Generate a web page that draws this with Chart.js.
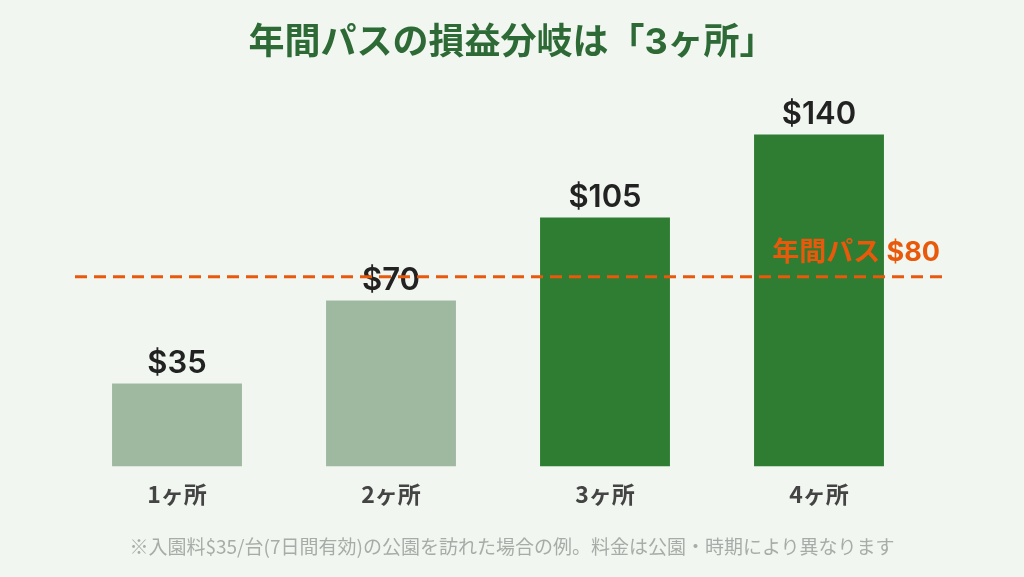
<!DOCTYPE html>
<html lang="ja">
<head>
<meta charset="UTF-8">
<title>年間パスの損益分岐</title>
<script src="https://cdn.jsdelivr.net/npm/chart.js"></script>
<style>
    body {
        margin: 0;
        padding: 0;
        background: #f1f6f0;
    }
    .wrap {
        width: 1024px;
        height: 577px;
        position: relative;
    }
    .title {
        position: absolute;
        top: 21px;
        left: 0;
        width: 1024px;
        text-align: center;
        font-family: Inter, "Noto Sans CJK JP", sans-serif;
        font-size: 36px;
        font-weight: 700;
        line-height: 40px;
        color: #2d6a36;
    }
    .note {
        position: absolute;
        top: 535px;
        left: 0;
        width: 1024px;
        text-align: center;
        font-family: "Noto Sans CJK JP", sans-serif;
        font-size: 19px;
        line-height: 22px;
        color: #a8aca8;
    }
    canvas {
        position: absolute;
        top: 0;
        left: 0;
    }
</style>
</head>
<body>
<div class="wrap">
    <canvas id="chart" width="1024" height="577"></canvas>
    <div class="title">年間パスの損益分岐は「3ヶ所」</div>
    <div class="note">※入園料$35/台(7日間有効)の公園を訪れた場合の例。料金は公園・時期により異なります</div>
</div>
<script>
// データ
const parks = ['1ヶ所', '2ヶ所', '3ヶ所', '4ヶ所'];
const entryCost = [35, 70, 105, 140];
const passPrice = 80;
const passLabel = '年間パス $80';

const lightGreen = '#9fb9a1';
const darkGreen = '#2e7d32';
const orange = '#e8590c';

// 棒の上の金額と年間パスの破線
const overlay = {
    id: 'overlay',
    afterDatasetsDraw(chart) {
        const ctx = chart.ctx;
        const y = chart.scales.y;
        const area = chart.chartArea;
        const meta = chart.getDatasetMeta(0);

        ctx.save();
        ctx.fillStyle = '#222';
        ctx.font = '600 31px Inter, "Liberation Sans", sans-serif';
        ctx.textAlign = 'center';
        ctx.textBaseline = 'alphabetic';
        meta.data.forEach((bar, i) => {
            ctx.fillText('$' + entryCost[i], bar.x, bar.y - 10);
        });

        const ly = y.getPixelForValue(passPrice);
        ctx.strokeStyle = orange;
        ctx.lineWidth = 3;
        ctx.setLineDash([12, 7]);
        ctx.beginPath();
        ctx.moveTo(area.left + 5, ly);
        ctx.lineTo(area.right + 22, ly);
        ctx.stroke();

        ctx.fillStyle = orange;
        ctx.font = 'bold 27px Inter, "Noto Sans CJK JP", sans-serif';
        ctx.textAlign = 'right';
        ctx.textBaseline = 'middle';
        ctx.fillText(passLabel, area.right + 14, ly - 24);
        ctx.restore();
    }
};

new Chart(document.getElementById('chart').getContext('2d'), {
    type: 'bar',
    data: {
        labels: parks,
        datasets: [{
            data: entryCost,
            backgroundColor: entryCost.map(v => v > passPrice ? darkGreen : lightGreen),
            barPercentage: 0.607,
            categoryPercentage: 1
        }]
    },
    options: {
        responsive: false,
        animation: false,
        layout: { padding: { left: 70, right: 98, top: 87, bottom: 55 } },
        plugins: {
            legend: { display: false },
            tooltip: { enabled: false }
        },
        scales: {
            x: {
                grid: { display: false, drawTicks: false },
                border: { display: false },
                ticks: {
                    color: '#444',
                    padding: 14,
                    font: { family: '"Noto Sans CJK JP", sans-serif', size: 23, weight: 'bold' }
                }
            },
            y: {
                display: false,
                min: 0,
                max: 160
            }
        }
    },
    plugins: [overlay]
});
</script>
</body>
</html>
